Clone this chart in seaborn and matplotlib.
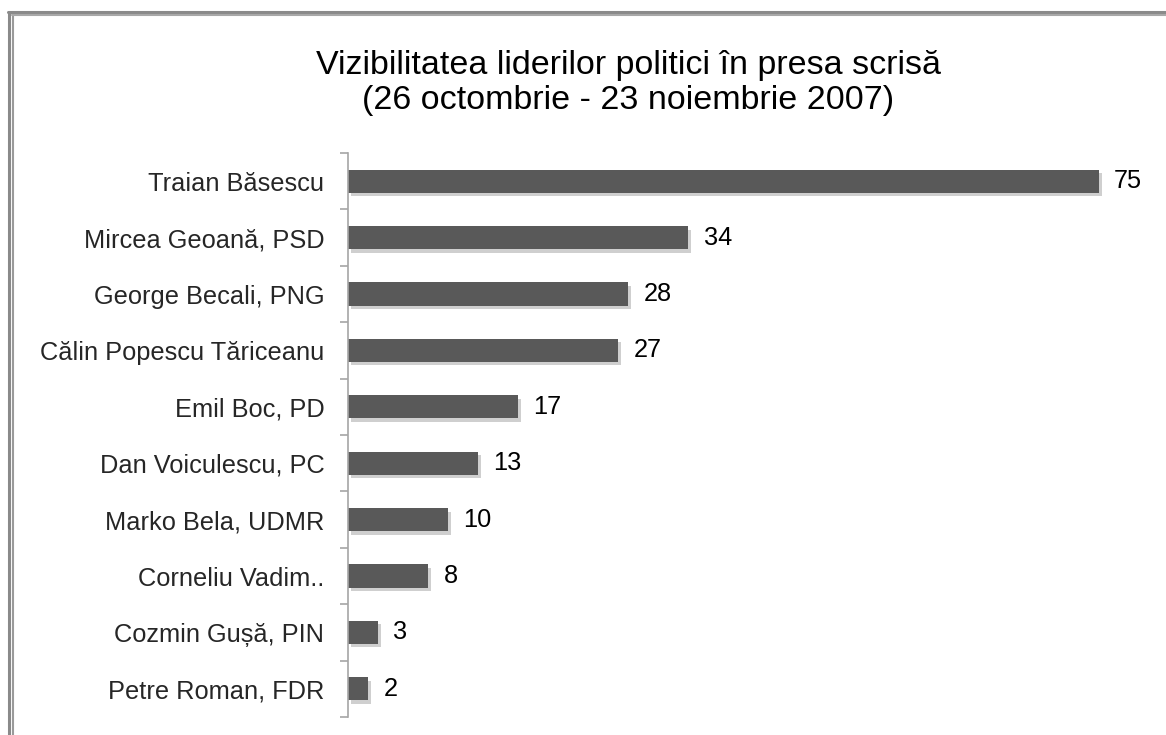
import matplotlib
matplotlib.use("Agg")
import matplotlib.pyplot as plt
import matplotlib.patheffects as pe
from matplotlib.lines import Line2D
from matplotlib.ticker import FixedLocator
import seaborn as sns
import pandas as pd

# data
names = ['Traian Băsescu', 'Mircea Geoană, PSD', 'George Becali, PNG',
         'Călin Popescu Tăriceanu', 'Emil Boc, PD', 'Dan Voiculescu, PC',
         'Marko Bela, UDMR', 'Corneliu Vadim..', 'Cozmin Gușă, PIN',
         'Petre Roman, FDR']
values = [75, 34, 28, 27, 17, 13, 10, 8, 3, 2]

title = 'Vizibilitatea liderilor politici în presa scrisă\n(26 octombrie - 23 noiembrie 2007)'

df = pd.DataFrame({'lider': names, 'aparitii': values})

sns.set_style('white')
plt.rcParams['font.family'] = ['Liberation Sans', 'DejaVu Sans']

fig = plt.figure(figsize=(11.66, 7.35), dpi=100)
ax = fig.add_axes([0.2985, 0.0245, 0.6868, 0.7673])

sns.barplot(data=df, x='aparitii', y='lider', orient='h', color='#595959',
            width=0.41, saturation=1, linewidth=0, ax=ax)

# soft drop shadow under bars
for bar in ax.patches:
    bar.set_path_effects([pe.SimplePatchShadow(offset=(2, -2.5), shadow_rgbFace='#c4c4c4', alpha=0.8),
                          pe.Normal()])

ax.bar_label(ax.containers[0], padding=11, fontsize=18.3, color='black')

ax.set_xlim(0, 80)
ax.set_ylim(len(names) - 0.5, -0.5)
ax.set_xlabel('')
ax.set_ylabel('')
ax.set_xticks([])

for side in ['top', 'right', 'bottom']:
    ax.spines[side].set_visible(False)
ax.spines['left'].set_color('#a6a6a6')
ax.spines['left'].set_linewidth(1.2)

# tick marks sit between categories
ax.yaxis.set_minor_locator(FixedLocator([i - 0.5 for i in range(len(names) + 1)]))
ax.tick_params(axis='y', which='minor', length=6, width=1.2, color='#a6a6a6', left=True)
ax.tick_params(axis='y', which='major', length=0, pad=17, labelsize=18.3)

fig.text(0.5386, 0.887, title, ha='center', va='center', fontsize=24.5,
         linespacing=1.2, multialignment='center', color='black')

# frame lines at the top and left of the picture
W, H = 1166, 735
fig.add_artist(Line2D([9 / W, 9 / W], [0, 1 - 12 / H], transform=fig.transFigure, color='#8a8a8a', lw=2.2))
fig.add_artist(Line2D([12.5 / W, 12.5 / W], [0, 1 - 14.5 / H], transform=fig.transFigure, color='#9a9a9a', lw=1.5))
fig.add_artist(Line2D([8 / W, 1], [1 - 12 / H, 1 - 12 / H], transform=fig.transFigure, color='#8a8a8a', lw=2.2))
fig.add_artist(Line2D([12 / W, 1], [1 - 14.5 / H, 1 - 14.5 / H], transform=fig.transFigure, color='#a8a8a8', lw=1.5))

fig.savefig('out.png', dpi=100, facecolor='white')
